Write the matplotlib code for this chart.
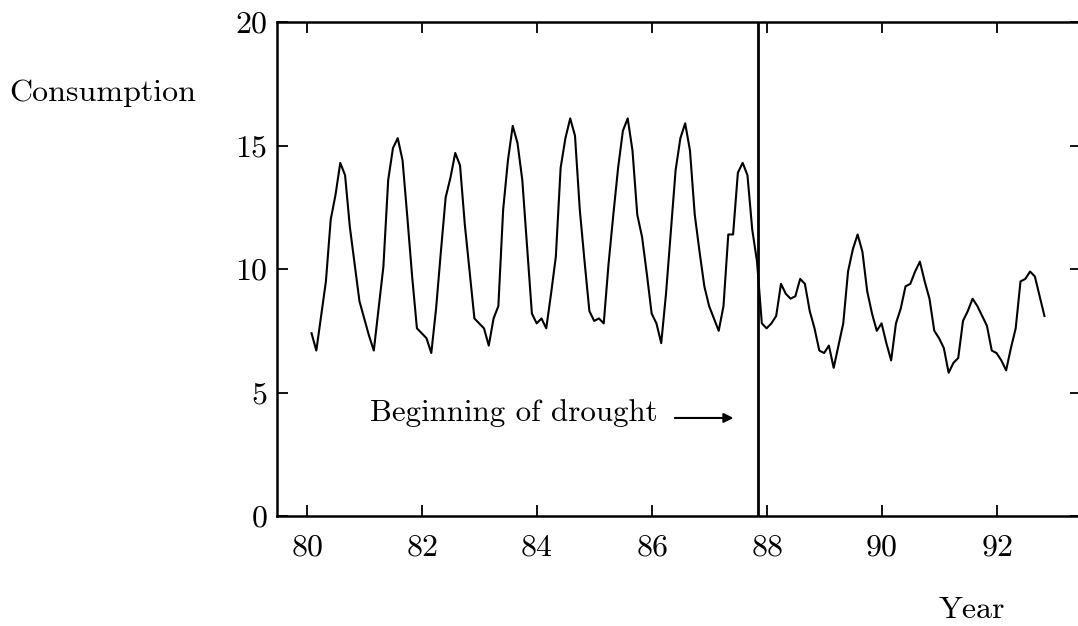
import numpy as np
import matplotlib
matplotlib.use('Agg')
import matplotlib.pyplot as plt

plt.rcParams['font.family'] = ['cmr10', 'DejaVu Serif']
plt.rcParams['axes.formatter.use_mathtext'] = True

# monthly water consumption, Jan 1980 onwards
consumption = [
    7.4, 6.7, 8.1, 9.5, 12.0, 13.0, 14.3, 13.8, 11.7, 10.2, 8.7, 8.0,    # 80
    7.3, 6.7, 8.4, 10.1, 13.6, 14.9, 15.3, 14.4, 12.1, 9.7, 7.6, 7.4,    # 81
    7.2, 6.6, 8.4, 10.7, 12.9, 13.7, 14.7, 14.2, 11.8, 9.9, 8.0, 7.8,    # 82
    7.6, 6.9, 8.0, 8.5, 12.4, 14.4, 15.8, 15.1, 13.6, 10.9, 8.2, 7.8,    # 83
    8.0, 7.6, 9.0, 10.5, 14.1, 15.3, 16.1, 15.4, 12.4, 10.3, 8.3, 7.9,   # 84
    8.0, 7.8, 10.2, 12.2, 14.1, 15.6, 16.1, 14.8, 12.2, 11.3, 9.8, 8.2,  # 85
    7.8, 7.0, 9.0, 11.5, 14.0, 15.3, 15.9, 14.8, 12.2, 10.7, 9.3, 8.5,   # 86
    8.0, 7.5, 8.5, 11.4, 11.4, 13.9, 14.3, 13.8, 11.6, 10.3, 7.8, 7.6,   # 87
    7.8, 8.1, 9.4, 9.0, 8.8, 8.9, 9.6, 9.4, 8.3, 7.6, 6.7, 6.6,          # 88
    6.9, 6.0, 6.9, 7.8, 9.9, 10.8, 11.4, 10.7, 9.1, 8.2, 7.5, 7.8,       # 89
    7.0, 6.3, 7.8, 8.4, 9.3, 9.4, 9.9, 10.3, 9.5, 8.8, 7.5, 7.2,         # 90
    6.8, 5.8, 6.2, 6.4, 7.9, 8.3, 8.8, 8.5, 8.1, 7.7, 6.7, 6.6,          # 91
    6.3, 5.9, 6.8, 7.6, 9.5, 9.6, 9.9, 9.7, 8.9, 8.1,                    # 92
]
start_year = 80.08
drought_start = 87.85
xticks = [80, 82, 84, 86, 88, 90, 92]
yticks = [0, 5, 10, 15, 20]

years = start_year + np.arange(len(consumption)) / 12

fig = plt.figure(figsize=(10.78, 6.26), dpi=100)
ax = fig.add_axes([0.257, 0.1757, 0.746, 0.789])

ax.plot(years, consumption, color='black', lw=1.5)
ax.axvline(drought_start, color='black', lw=2)

ax.set_xlim(79.48, 93.47)
ax.set_ylim(0, 20)
ax.set_xticks(xticks)
ax.set_yticks(yticks)
ax.tick_params(direction='in', length=8, width=1.3, top=True, right=True,
               labelsize=23)
ax.tick_params(axis='x', pad=13)
ax.tick_params(axis='y', pad=7)
for s in ax.spines.values():
    s.set_linewidth(1.8)

ax.text(81.09, 3.83, 'Beginning of drought', fontsize=22.3, va='baseline')
ax.annotate('', xy=(87.42, 3.97), xytext=(86.40, 3.97),
            arrowprops=dict(arrowstyle='-|>', lw=1.5, color='black',
                            mutation_scale=14, shrinkA=0, shrinkB=0))

fig.text(0.009, 0.8387, 'Consumption', fontsize=23, va='baseline')
fig.text(0.871, 0.0128, 'Year', fontsize=23, va='baseline')

fig.savefig('out.png', dpi=100)
